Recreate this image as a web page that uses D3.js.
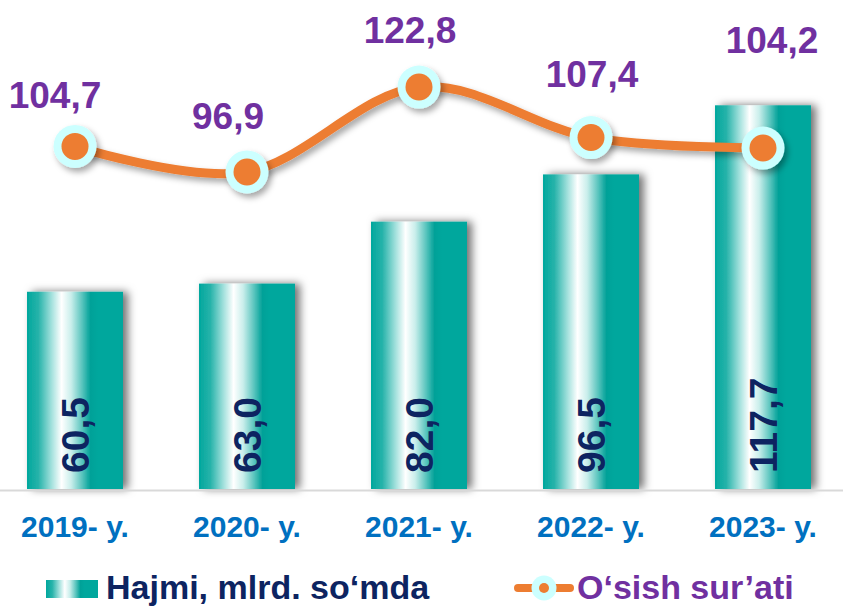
<!DOCTYPE html>
<meta charset="utf-8">
<style>
  body { margin: 0; background: #fff; }
  text { font-family: "Liberation Sans", Arial, sans-serif; font-weight: bold; }
</style>

<!-- Load d3.js -->
<script src="https://d3js.org/d3.v7.min.js"></script>

<!-- Create a div where the graph will take place -->
<div id="my_dataviz"></div>

<script>

// data
var years = ["2019- y.", "2020- y.", "2021- y.", "2022- y.", "2023- y."]
var volume = [60.5, 63.0, 82.0, 96.5, 117.7]     // Hajmi, mlrd. so‘mda
var growth = [104.7, 96.9, 122.8, 107.4, 104.2]  // O‘sish sur’ati
var volumeName = "Hajmi, mlrd. so‘mda"
var growthName = "O‘sish sur’ati"

// hand placed growth labels (dx, dy from the marker)
var labelNudge = [[-20, -38], [-19, -43], [-9, -44], [1, -51], [9, -95]]

var width = 843,
    height = 607,
    baseY = 489

var fmt = function(v) { return v.toFixed(1).replace(".", ",") }

var svg = d3.select("#my_dataviz")
  .append("svg")
    .attr("width", width)
    .attr("height", height)

var defs = svg.append("defs")

// cylinder look of the bars
var grad = defs.append("linearGradient")
    .attr("id", "barGrad")
    .attr("x1", "0%").attr("x2", "100%")
    .attr("y1", "0%").attr("y2", "0%")
var stops = [[0, "#00a79d"], [0.12, "#27b3aa"], [0.26, "#a6e2de"], [0.36, "#ffffff"],
             [0.46, "#c9eeeb"], [0.58, "#53c2bb"], [0.66, "#00a198"], [0.74, "#00a79d"], [1, "#00a79d"]]
stops.forEach(function(s) {
  grad.append("stop").attr("offset", s[0]).attr("stop-color", s[1])
})

// shadows
defs.append("filter")
    .attr("id", "barShadow")
    .attr("x", "-30%").attr("y", "-10%").attr("width", "160%").attr("height", "120%")
  .append("feDropShadow")
    .attr("dx", 5).attr("dy", 0)
    .attr("stdDeviation", 4)
    .attr("flood-color", "#000")
    .attr("flood-opacity", 0.55)

defs.append("filter")
    .attr("id", "lineShadow")
    .attr("x", "-20%").attr("y", "-40%").attr("width", "140%").attr("height", "180%")
  .append("feDropShadow")
    .attr("dx", 3).attr("dy", 4)
    .attr("stdDeviation", 3)
    .attr("flood-color", "#000")
    .attr("flood-opacity", 0.35)

// X scale
var x = d3.scaleBand()
  .domain(years)
  .range([-11, 849])
  .paddingInner(0.442)
  .paddingOuter(0.221)

// Y scale for the bars and one for the growth line
var y = d3.scaleLinear()
  .domain([0, 150])
  .range([baseY, 0])

var y2 = d3.scaleLinear()
  .domain([90, 130])
  .range([194.6, 63.4])

// bars
svg.append("g")
  .selectAll("rect")
  .data(volume)
  .enter()
  .append("rect")
    .attr("x", function(d, i) { return x(years[i]) })
    .attr("y", function(d) { return y(d) })
    .attr("width", x.bandwidth())
    .attr("height", function(d) { return baseY - y(d) })
    .attr("fill", "url(#barGrad)")
    .attr("filter", "url(#barShadow)")

// axis line
svg.append("line")
    .attr("x1", 0).attr("x2", width)
    .attr("y1", baseY + 1.5).attr("y2", baseY + 1.5)
    .attr("stroke", "#d9d9d9")
    .attr("stroke-width", 2)

// values inside the bars
svg.append("g")
  .selectAll("text")
  .data(volume)
  .enter()
  .append("text")
    .attr("transform", function(d, i) {
      return "translate(" + (x(years[i]) + x.bandwidth() / 2 + 14) + "," + (baseY - 16) + ") rotate(-90)"
    })
    .attr("text-anchor", "start")
    .style("font-size", "39px")
    .attr("fill", "#0d2461")
    .text(function(d) { return fmt(d) })

// x labels
svg.append("g")
  .selectAll("text")
  .data(years)
  .enter()
  .append("text")
    .attr("x", function(d) { return x(d) + x.bandwidth() / 2 })
    .attr("y", 537)
    .attr("text-anchor", "middle")
    .style("font-size", "30px")
    .attr("fill", "#0070c0")
    .text(function(d) { return d })

// growth line
var cx = function(i) { return x(years[i]) + x.bandwidth() / 2 }

svg.append("path")
    .datum(growth)
    .attr("d", d3.line()
      .x(function(d, i) { return cx(i) })
      .y(function(d) { return y2(d) })
      .curve(d3.curveCatmullRom.alpha(0))
    )
    .attr("fill", "none")
    .attr("stroke", "#ed7d31")
    .attr("stroke-width", 9)
    .attr("filter", "url(#lineShadow)")

// markers
var marks = svg.append("g")
  .selectAll("g")
  .data(growth)
  .enter()
  .append("g")
    .attr("transform", function(d, i) { return "translate(" + cx(i) + "," + y2(d) + ")" })
    .attr("filter", "url(#lineShadow)")
marks.append("circle")
    .attr("r", 21.5)
    .attr("fill", "#ccffff")
marks.append("circle")
    .attr("r", 13.5)
    .attr("fill", "#ed7d31")

// growth labels
svg.append("g")
  .selectAll("text")
  .data(growth)
  .enter()
  .append("text")
    .attr("x", function(d, i) { return cx(i) + labelNudge[i][0] })
    .attr("y", function(d, i) { return y2(d) + labelNudge[i][1] })
    .attr("text-anchor", "middle")
    .style("font-size", "37px")
    .attr("fill", "#7030a0")
    .text(function(d) { return fmt(d) })

// legend
var legend = svg.append("g")

legend.append("rect")
    .attr("x", 46).attr("y", 580)
    .attr("width", 52).attr("height", 18)
    .attr("fill", "url(#barGrad)")
legend.append("text")
    .attr("x", 106).attr("y", 599)
    .style("font-size", "34px")
    .attr("fill", "#0d2461")
    .text(volumeName)

legend.append("line")
    .attr("x1", 518).attr("x2", 570)
    .attr("y1", 588).attr("y2", 588)
    .attr("stroke", "#ed7d31")
    .attr("stroke-width", 8)
    .attr("stroke-linecap", "round")
legend.append("circle")
    .attr("cx", 544).attr("cy", 588)
    .attr("r", 12.5)
    .attr("fill", "#ccffff")
legend.append("circle")
    .attr("cx", 544).attr("cy", 588)
    .attr("r", 5)
    .attr("fill", "#ed7d31")
legend.append("text")
    .attr("x", 577).attr("y", 599)
    .style("font-size", "34px")
    .attr("fill", "#7030a0")
    .text(growthName)

</script>
